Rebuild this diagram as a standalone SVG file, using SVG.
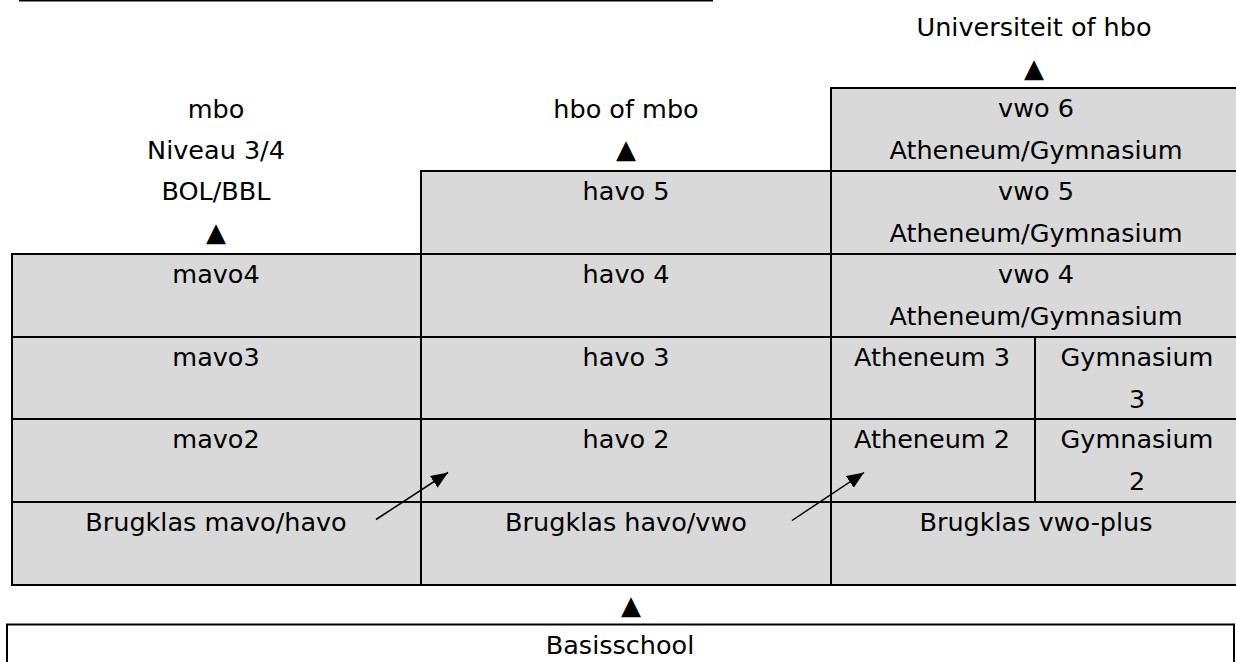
<svg xmlns="http://www.w3.org/2000/svg" width="1236" height="662" viewBox="0 0 1236 662">
<style>
  .cell { fill: #d9d9d9; stroke: #000; stroke-width: 2; }
  .box { fill: #ffffff; stroke: #000; stroke-width: 2; }
  text { font-family: "DejaVu Sans", "Liberation Sans", sans-serif; font-size: 25.5px; fill: #000; text-anchor: middle; }
  .tri { font-size: 26px; }
  .conn { stroke: #000; stroke-width: 1.5; fill: none; }
</style>
<defs>
  <marker id="ah" markerUnits="userSpaceOnUse" markerWidth="20" markerHeight="16" refX="17" refY="8" orient="auto">
    <path d="M0,1 L17,8 L0,15 Z" fill="#000"/>
  </marker>
</defs>
<rect x="0" y="0" width="1236" height="662" fill="#fff"/>
<line x1="19" y1="0.75" x2="713" y2="0.75" stroke="#000" stroke-width="1.5"/>

<g id="label-mbo">
  <text x="216" y="118">mbo</text>
  <text x="216" y="159">Niveau 3/4</text>
  <text x="216" y="200">BOL/BBL</text>
  <text class="tri" x="216" y="241">▲</text>
</g>
<g id="label-hbo-mbo">
  <text x="626" y="118">hbo of mbo</text>
  <text class="tri" x="626" y="158">▲</text>
</g>
<g id="label-universiteit">
  <text x="1034" y="36">Universiteit of hbo</text>
  <text class="tri" x="1034" y="77">▲</text>
</g>

<g id="mavo4"><rect class="cell" x="12" y="254" width="409" height="83"/><text x="216" y="283">mavo4</text></g>
<g id="mavo3"><rect class="cell" x="12" y="337" width="409" height="82"/><text x="216" y="366">mavo3</text></g>
<g id="mavo2"><rect class="cell" x="12" y="419" width="409" height="83"/><text x="216" y="448">mavo2</text></g>
<g id="brug-mavo-havo"><rect class="cell" x="12" y="502" width="409" height="83"/><text x="216" y="531">Brugklas mavo/havo</text></g>

<g id="havo5"><rect class="cell" x="421" y="171" width="410" height="83"/><text x="626" y="200">havo 5</text></g>
<g id="havo4"><rect class="cell" x="421" y="254" width="410" height="83"/><text x="626" y="283">havo 4</text></g>
<g id="havo3"><rect class="cell" x="421" y="337" width="410" height="82"/><text x="626" y="366">havo 3</text></g>
<g id="havo2"><rect class="cell" x="421" y="419" width="410" height="83"/><text x="626" y="448">havo 2</text></g>
<g id="brug-havo-vwo"><rect class="cell" x="421" y="502" width="410" height="83"/><text x="626" y="531">Brugklas havo/vwo</text></g>

<g id="vwo6"><rect class="cell" x="831" y="88" width="412" height="83"/><text x="1036" y="117">vwo 6</text><text x="1036" y="158.5">Atheneum/Gymnasium</text></g>
<g id="vwo5"><rect class="cell" x="831" y="171" width="412" height="83"/><text x="1036" y="200">vwo 5</text><text x="1036" y="241.5">Atheneum/Gymnasium</text></g>
<g id="vwo4"><rect class="cell" x="831" y="254" width="412" height="83"/><text x="1036" y="283">vwo 4</text><text x="1036" y="324.5">Atheneum/Gymnasium</text></g>
<g id="atheneum3"><rect class="cell" x="831" y="337" width="204" height="82"/><text x="932" y="366">Atheneum 3</text></g>
<g id="gymnasium3"><rect class="cell" x="1035" y="337" width="208" height="82"/><text x="1137" y="366">Gymnasium</text><text x="1137" y="407.5">3</text></g>
<g id="atheneum2"><rect class="cell" x="831" y="419" width="204" height="83"/><text x="932" y="448">Atheneum 2</text></g>
<g id="gymnasium2"><rect class="cell" x="1035" y="419" width="208" height="83"/><text x="1137" y="448">Gymnasium</text><text x="1137" y="489.5">2</text></g>
<g id="brug-vwo-plus"><rect class="cell" x="831" y="502" width="412" height="83"/><text x="1036" y="531">Brugklas vwo-plus</text></g>

<g id="arrow-basis">
  <text class="tri" x="631" y="614">▲</text>
</g>
<g id="basisschool"><rect class="box" x="7" y="624.5" width="1227" height="60"/><text x="620" y="654">Basisschool</text></g>

<g id="connectors">
  <line class="conn" x1="376" y1="519.5" x2="448" y2="472.5" marker-end="url(#ah)"/>
  <line class="conn" x1="792" y1="520.5" x2="864" y2="472.5" marker-end="url(#ah)"/>
</g>
</svg>
